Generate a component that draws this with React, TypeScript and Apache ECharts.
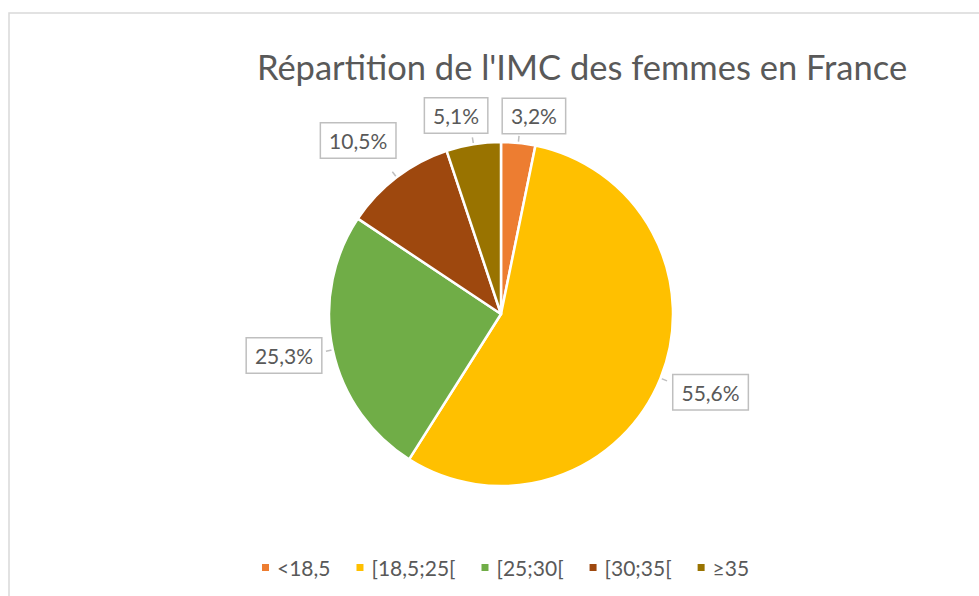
import React, { useEffect, useRef } from "react";
import * as echarts from "echarts";

const categories = ["<18,5", "[18,5;25[", "[25;30[", "[30;35[", "≥35"];
const values = [3.2, 55.6, 25.3, 10.5, 5.1];
const colors = ["#ED7D31", "#FFC000", "#70AD47", "#9E480E", "#997300"];
const titleText = "Répartition de l'IMC des femmes en France";

const CX = 501;
const CY = 314;
const R = 172;

export default function App() {
  const ref = useRef<HTMLDivElement>(null);
  useEffect(() => {
    document.body.style.margin = "0";
    const chart = echarts.init(ref.current!, null, { renderer: "svg" });
    const font = "Lato, 'Open Sans', sans-serif";
    const total = values.reduce((a, b) => a + b, 0);
    const midAngles: number[] = [];
    let acc = 0;
    values.forEach((v) => {
      midAngles.push(((acc + v / 2) / total) * Math.PI * 2);
      acc += v;
    });
    chart.setOption({
      animation: false,
      backgroundColor: "#ffffff",
      title: {
        text: titleText,
        left: 577,
        top: 44,
        textAlign: "center",
        textStyle: { fontFamily: font, fontSize: 34.5, fontWeight: "normal", color: "#595959" },
      },
      graphic: [
        {
          type: "rect",
          shape: { x: 9, y: 13, width: 1000, height: 700 },
          style: { fill: "none", stroke: "#d9d9d9", lineWidth: 1.5 },
          silent: true,
        },
      ],
      legend: {
        bottom: 13,
        left: 255,
        icon: "rect",
        itemWidth: 9,
        itemHeight: 9,
        itemGap: 24,
        textStyle: { fontFamily: font, fontSize: 21, color: "#595959", padding: [0, 0, 0, 2] },
        data: categories,
      },
      series: [
        {
          type: "pie",
          center: [CX, CY],
          radius: R,
          startAngle: 90,
          clockwise: true,
          avoidLabelOverlap: false,
          itemStyle: { borderColor: "#ffffff", borderWidth: 2.5 },
          label: {
            show: true,
            position: "outside",
            formatter: (p: any) => String(p.value).replace(".", ",") + "%",
            fontFamily: font,
            fontSize: 21,
            color: "#595959",
            backgroundColor: "#ffffff",
            borderColor: "#bfbfbf",
            borderWidth: 1.5,
            padding: [7, 8, 6, 8],
          },
          labelLine: {
            show: true,
            length: 12,
            length2: 2,
            lineStyle: { color: "#bfbfbf", width: 1.5 },
          },
          labelLayout: (params: any) => {
            const a = midAngles[params.dataIndex];
            const dx = Math.sin(a);
            const dy = -Math.cos(a);
            const w = params.labelRect.width;
            const h = params.labelRect.height;
            const ext = (Math.abs(dx) * w) / 2 + (Math.abs(dy) * h) / 2;
            const d = R + 5 + ext;
            const x = CX + dx * d + Math.sign(dx) * w * 0.2 * Math.abs(dy);
            const y = CY + dy * d - 4 * Math.abs(dx);
            const bx = CX + dx * (R + 7);
            const by = CY + dy * (R + 7);
            const sx = CX + dx * (R + 1);
            const sy = CY + dy * (R + 1);
            return {
              x,
              y,
              align: "center",
              verticalAlign: "middle",
              labelLinePoints: [
                [sx, sy],
                [bx, by],
                [bx, by],
              ],
            };
          },
          data: categories.map((c, i) => ({
            name: c,
            value: values[i],
            itemStyle: { color: colors[i] },
          })),
        },
      ],
    });
    return () => chart.dispose();
  }, []);
  return <div ref={ref} style={{ width: 979, height: 596 }} />;
}
